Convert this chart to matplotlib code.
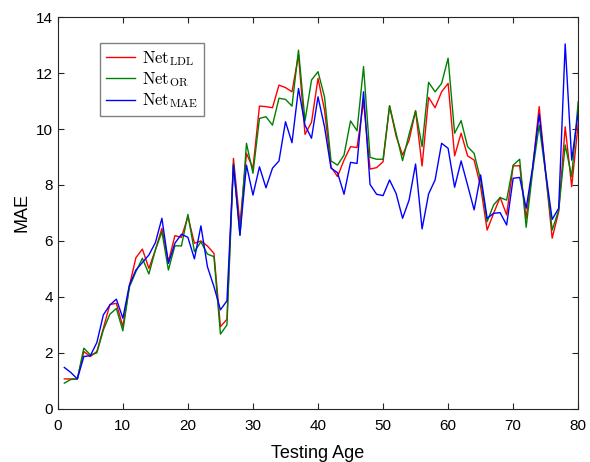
import numpy as np
import matplotlib
matplotlib.use("Agg")
import matplotlib.pyplot as plt

plt.rcParams['font.family'] = ['Liberation Sans', 'DejaVu Sans']
plt.rcParams['mathtext.fontset'] = 'cm'

# testing ages 1..80
ages = np.arange(1, 81)

mae_ldl = [1.07, 1.07, 1.07, 2.05, 1.87, 2.05, 2.88, 3.73, 3.77, 2.94,
           4.39, 5.40, 5.71, 5.02, 5.68, 6.45, 5.26, 6.19, 6.13, 6.87,
           5.92, 6.00, 5.82, 5.56, 2.94, 3.20, 8.95, 6.60, 9.13, 8.60,
           10.82, 10.80, 10.76, 11.57, 11.48, 11.33, 12.64, 9.81, 10.24, 11.81,
           10.68, 8.65, 8.30, 8.89, 9.37, 9.34, 10.98, 8.57, 8.62, 8.83,
           10.83, 9.75, 9.07, 9.60, 10.65, 8.68, 11.13, 10.76, 11.33, 11.63,
           9.04, 9.85, 9.04, 8.89, 7.94, 6.39, 6.99, 7.56, 6.93, 8.68,
           8.69, 6.81, 8.60, 10.80, 8.42, 6.10, 7.05, 10.08, 7.94, 10.20]

mae_or = [0.92, 1.05, 1.07, 2.17, 1.93, 2.00, 2.82, 3.38, 3.59, 2.79,
          4.35, 4.90, 5.38, 4.82, 5.68, 6.33, 4.96, 5.83, 5.82, 6.95,
          5.62, 5.97, 5.53, 5.44, 2.67, 3.00, 8.77, 6.20, 9.49, 8.42,
          10.38, 10.44, 10.14, 11.10, 11.06, 10.82, 12.82, 10.29, 11.75, 12.05,
          11.15, 8.86, 8.71, 9.07, 10.29, 9.94, 12.23, 8.99, 8.92, 8.92,
          10.83, 9.85, 8.87, 9.81, 10.65, 9.37, 11.67, 11.33, 11.63, 12.53,
          9.85, 10.30, 9.37, 9.13, 8.18, 6.69, 7.29, 7.55, 7.46, 8.71,
          8.92, 6.49, 8.50, 10.14, 8.40, 6.39, 7.10, 9.43, 8.30, 10.98]

mae_mae = [1.48, 1.30, 1.07, 1.87, 1.90, 2.37, 3.36, 3.71, 3.92, 3.24,
           4.42, 4.96, 5.23, 5.50, 5.94, 6.81, 5.20, 5.92, 6.24, 6.13,
           5.36, 6.54, 5.08, 4.37, 3.54, 3.86, 8.71, 6.21, 8.71, 7.64,
           8.65, 7.90, 8.60, 8.86, 10.26, 9.51, 11.45, 10.14, 9.67, 11.15,
           10.08, 8.60, 8.44, 7.67, 8.81, 8.77, 11.33, 8.02, 7.67, 7.62,
           8.18, 7.70, 6.81, 7.46, 8.75, 6.43, 7.68, 8.18, 9.49, 9.31,
           7.92, 8.86, 7.99, 7.11, 8.36, 6.81, 6.99, 7.01, 6.57, 8.24,
           8.27, 7.17, 8.65, 10.53, 8.45, 6.77, 7.17, 13.04, 8.89, 10.60]

labels = [r'$\mathrm{Net}_{\mathrm{LDL}}$', r'$\mathrm{Net}_{\mathrm{OR}}$', r'$\mathrm{Net}_{\mathrm{MAE}}$']

fig = plt.figure(figsize=(5.9, 4.62), dpi=100)
ax = fig.add_axes([0.098, 0.115, 0.882, 0.848])

ax.plot(ages, mae_ldl, color='#ff0000', lw=1.0, label=labels[0])
ax.plot(ages, mae_or, color='#008000', lw=1.0, label=labels[1])
ax.plot(ages, mae_mae, color='#0000ff', lw=1.0, label=labels[2])

ax.set_xlim(0, 80)
ax.set_ylim(0, 14)
ax.set_xticks(np.arange(0, 81, 10))
ax.set_yticks(np.arange(0, 15, 2))
ax.tick_params(direction='in', top=True, right=True, labelsize=11,
               color='#262626', labelcolor='black', length=4)
ax.tick_params(axis='x', pad=7)
for s in ax.spines.values():
    s.set_color('#262626')
    s.set_linewidth(0.8)

ax.set_xlabel('Testing Age', fontsize=13, labelpad=9)
ax.set_ylabel('MAE', fontsize=13, labelpad=4)

leg = ax.legend(loc='upper left', bbox_to_anchor=(0.081, 0.934), fontsize=12,
                fancybox=False, framealpha=1, edgecolor='#808080',
                handlelength=1.75, handletextpad=0.4, borderpad=0.35,
                labelspacing=0.15, borderaxespad=0)
leg.get_frame().set_linewidth(1.0)

fig.savefig('out.png', dpi=100)
